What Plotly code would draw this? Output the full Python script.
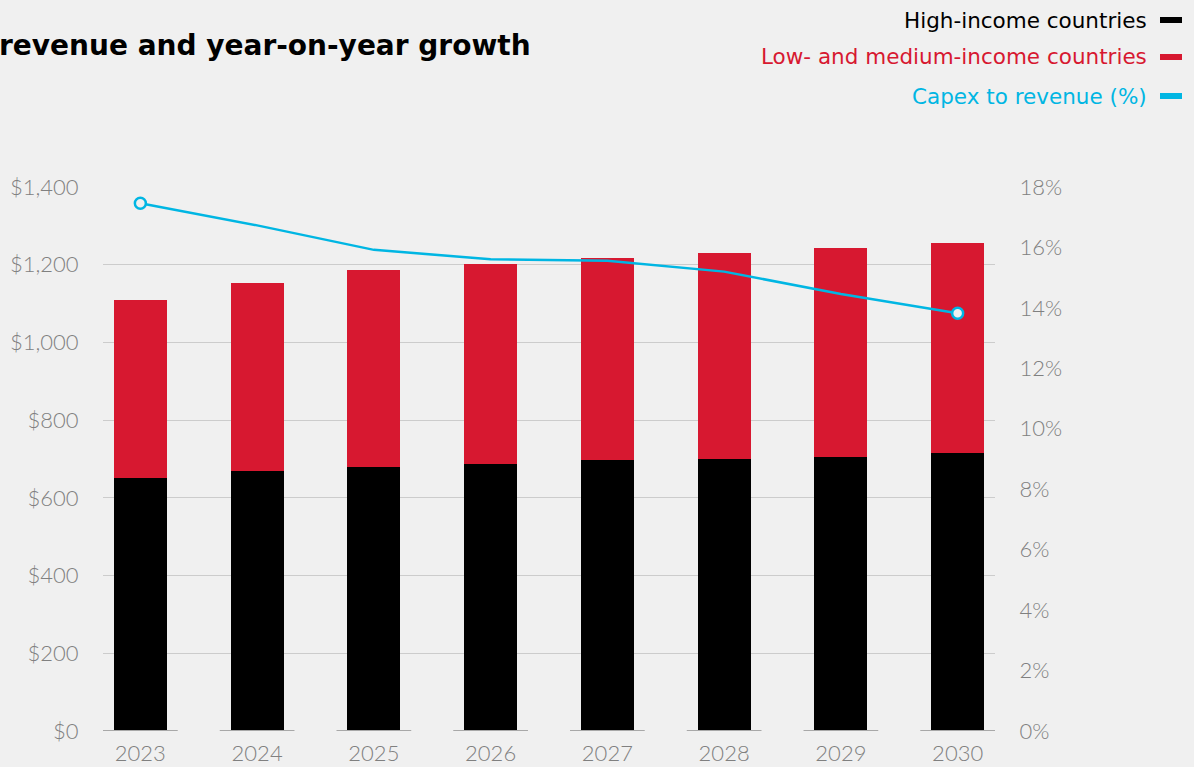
import plotly.graph_objects as go

years = ["2023", "2024", "2025", "2026", "2027", "2028", "2029", "2030"]
high_income = [651, 669, 679, 687, 697, 700, 705, 715]
low_medium_income = [458, 484, 507, 515, 520, 530, 538, 540]
capex_to_revenue = [17.46, 16.73, 15.92, 15.61, 15.56, 15.2, 14.46, 13.82]

BG = "#f0f0f0"
BLACK = "#000000"
RED = "#d71830"
CYAN = "#00b6e3"
TICK = "#808080"
TICKFONT = "Lato"
TEXTFONT = "DejaVu Sans"

W, H = 1194, 767
ML, MR, MT, MB = 103, 199, 187, 36
PW, PH = W - ML - MR, H - MT - MB


def px_x(p):
    return (p - ML) / PW


def px_y(p):
    return (H - MB - p) / PH


fig = go.Figure()
fig.add_trace(go.Bar(x=years, y=high_income, name="High-income countries",
                     marker=dict(color=BLACK, line=dict(width=0)), width=0.455))
fig.add_trace(go.Bar(x=years, y=low_medium_income, name="Low- and medium-income countries",
                     marker=dict(color=RED, line=dict(width=0)), width=0.455))
sizes = [11] + [0] * (len(years) - 2) + [11]
fig.add_trace(go.Scatter(x=years, y=capex_to_revenue, name="Capex to revenue (%)",
                         yaxis="y2", mode="lines+markers",
                         line=dict(color=CYAN, width=2.5),
                         marker=dict(size=sizes, color=BG, opacity=1,
                                     line=dict(color=CYAN, width=2.5))))

shapes = []
for i in range(len(years)):
    shapes.append(dict(type="line", xref="x", yref="y", x0=i - 0.32, x1=i + 0.32, y0=0, y1=0,
                       line=dict(color="#a8a8a8", width=2)))

legend_items = [("High-income countries", BLACK, 20),
                ("Low- and medium-income countries", RED, 57),
                ("Capex to revenue (%)", CYAN, 96)]
annotations = []
for text, col, yp in legend_items:
    annotations.append(dict(text=text, xref="paper", yref="paper", x=px_x(1149), y=px_y(yp),
                            xanchor="right", yanchor="middle", showarrow=False,
                            font=dict(family=TEXTFONT, size=21.5, color=col)))
    shapes.append(dict(type="rect", xref="paper", yref="paper", x0=px_x(1160), x1=px_x(1182),
                       y0=px_y(yp + 3), y1=px_y(yp - 3), fillcolor=col, line=dict(width=0)))

annotations.append(dict(text="<b>revenue and year-on-year growth</b>", xref="paper", yref="paper",
                        x=px_x(-3), y=px_y(46), xanchor="left", yanchor="middle", showarrow=False,
                        font=dict(family=TEXTFONT, size=28, color="#000000")))

fig.update_layout(
    width=W, height=H,
    margin=dict(l=ML, r=MR, t=MT, b=MB, pad=0),
    paper_bgcolor=BG, plot_bgcolor=BG,
    barmode="stack", showlegend=False,
    font=dict(family=TICKFONT, color=TICK),
    shapes=shapes, annotations=annotations,
    xaxis=dict(type="category", range=[-0.32, 7.32], showgrid=False, zeroline=False,
               showline=False, ticks="outside", ticklen=3, tickcolor="rgba(0,0,0,0)",
               automargin=False,
               tickfont=dict(family=TICKFONT, size=22, color=TICK, weight=300)),
    yaxis=dict(range=[0, 1400], dtick=200, tickprefix="$", tickformat=",",
               gridcolor="#cccccc", gridwidth=1.2, zeroline=False, showline=False,
               ticks="outside", ticklen=19, tickcolor="rgba(0,0,0,0)", automargin=False,
               tickfont=dict(family=TICKFONT, size=22, color=TICK, weight=300)),
    yaxis2=dict(range=[0, 18], dtick=2, ticksuffix="%", overlaying="y", side="right",
                showgrid=False, zeroline=False, showline=False, automargin=False,
                ticks="outside", ticklen=19, tickcolor="rgba(0,0,0,0)",
                tickfont=dict(family=TICKFONT, size=22, color=TICK, weight=300)),
)

fig.write_html("out.html", config={"displayModeBar": False},
               post_script="document.body.style.margin='0';")
